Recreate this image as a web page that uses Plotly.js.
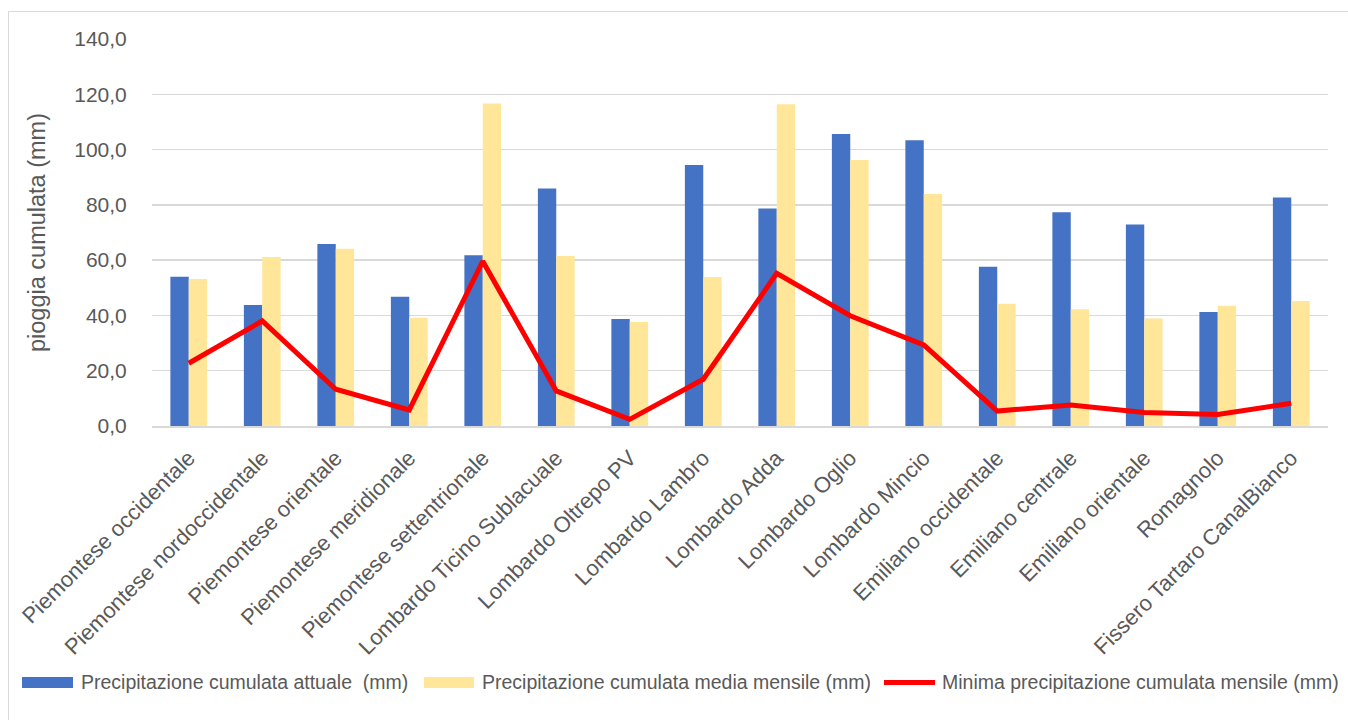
<!DOCTYPE html>
<html>
<head>
<meta charset="utf-8">
<script src="https://cdn.plot.ly/plotly-3.0.1.min.js"></script>
<style>
  html, body { margin: 0; padding: 0; background: #ffffff; overflow: hidden; }
  #chart { position: absolute; left: 0; top: 0; width: 1348px; height: 720px; }
  #frame { position: absolute; left: 8px; top: 11px; width: 1400px; height: 800px;
           border: 1px solid #d9d9d9; pointer-events: none; }
</style>
</head>
<body>
<div id="chart"></div>
<div id="frame"></div>
<script>
const categories = [
  "Piemontese occidentale", "Piemontese nordoccidentale", "Piemontese orientale",
  "Piemontese meridionale", "Piemontese settentrionale", "Lombardo Ticino Sublacuale",
  "Lombardo Oltrepo PV", "Lombardo Lambro", "Lombardo Adda", "Lombardo Oglio",
  "Lombardo Mincio", "Emiliano occidentale", "Emiliano centrale", "Emiliano orientale",
  "Romagnolo", "Fissero Tartaro CanalBianco"
];
const attuale = [54.0, 43.8, 65.8, 46.8, 61.8, 85.9, 38.7, 94.4, 78.7, 105.6, 103.4, 57.6, 77.3, 72.9, 41.2, 82.7];
const mediaMensile = [53.2, 61.1, 64.1, 39.2, 116.7, 61.5, 37.6, 53.9, 116.4, 96.2, 83.9, 44.2, 42.2, 38.9, 43.5, 45.2];
const minima = [22.7, 38.0, 13.3, 5.8, 59.6, 12.7, 2.4, 16.9, 55.2, 39.9, 29.3, 5.4, 7.6, 4.9, 4.2, 8.2];
const seriesNames = [
  "Precipitazione cumulata attuale  (mm)",
  "Precipitazione cumulata media mensile (mm)",
  "Minima precipitazione cumulata mensile (mm)"
];
const yTickVals = [0, 20, 40, 60, 80, 100, 120, 140];
const yTitle = "pioggia cumulata (mm)";

const BLUE = "#4472C4", YELLOW = "#FFE699", RED = "#FF0000", TXT = "#595959", GRID = "#d9d9d9";
const FONT = "Liberation Sans, Arial, sans-serif";

// pixel -> paper helpers (plot area 152..1328 x, 39..426 y)
const L = 152, R = 20, T = 39, B = 294, W = 1348, H = 720;
const pw = W - L - R, ph = H - T - B;
const px = x => (x - L) / pw;
const py = y => (H - B - y) / ph;

const traces = [
  { type: "bar", name: seriesNames[0], x: categories, y: attuale,
    marker: { color: BLUE }, showlegend: false, hoverinfo: "skip" },
  { type: "bar", name: seriesNames[1], x: categories, y: mediaMensile,
    marker: { color: YELLOW }, showlegend: false, hoverinfo: "skip" },
  { type: "scatter", mode: "lines", name: seriesNames[2], x: categories, y: minima,
    line: { color: RED, width: 5, shape: "linear" }, showlegend: false, hoverinfo: "skip" }
];

// custom legend (wide swatches like the original)
const legendY = 682.5;
const items = [
  { x0: 22, x1: 73, tx: 79, kind: "rect", color: BLUE },
  { x0: 424, x1: 474, tx: 480, kind: "rect", color: YELLOW },
  { x0: 884, x1: 935, tx: 940, kind: "line", color: RED }
];
const shapes = [];
const annotations = [];
items.forEach((it, i) => {
  if (it.kind === "rect") {
    shapes.push({ type: "rect", xref: "paper", yref: "paper",
      x0: px(it.x0), x1: px(it.x1), y0: py(legendY + 5.5), y1: py(legendY - 5.5),
      fillcolor: it.color, line: { width: 0 } });
  } else {
    shapes.push({ type: "line", xref: "paper", yref: "paper",
      x0: px(it.x0), x1: px(it.x1), y0: py(legendY), y1: py(legendY),
      line: { color: it.color, width: 5 } });
  }
  annotations.push({ xref: "paper", yref: "paper", x: px(it.tx), y: py(legendY),
    xanchor: "left", yanchor: "middle", showarrow: false, text: seriesNames[i],
    font: { family: FONT, size: 19.5, color: TXT } });
});

const layout = {
  width: W, height: H,
  margin: { l: L, r: R, t: T, b: B, pad: 0 },
  paper_bgcolor: "rgba(0,0,0,0)", plot_bgcolor: "#ffffff",
  separators: ",.",
  barmode: "group", bargap: 0.5, bargroupgap: 0,
  font: { family: FONT, color: TXT },
  showlegend: false,
  xaxis: {
    type: "category", tickangle: -45, automargin: false,
    tickfont: { family: FONT, size: 22, color: TXT },
    ticks: "outside", ticklen: 9, tickcolor: "rgba(0,0,0,0)",
    showgrid: false, showline: true, linecolor: GRID, linewidth: 1.5
  },
  yaxis: {
    range: [0, 140], tickvals: yTickVals, tickformat: ".1f", automargin: false,
    tickfont: { family: FONT, size: 21, color: TXT },
    ticks: "outside", ticklen: 20, tickcolor: "rgba(0,0,0,0)",
    showgrid: true, gridcolor: GRID, gridwidth: 1.5, zeroline: false,
    showline: false,
    title: { text: yTitle, font: { family: FONT, size: 23.5, color: TXT }, standoff: 22 }
  },
  shapes: shapes,
  annotations: annotations
};

Plotly.newPlot("chart", traces, layout, { staticPlot: true, displayModeBar: false });
</script>
</body>
</html>
